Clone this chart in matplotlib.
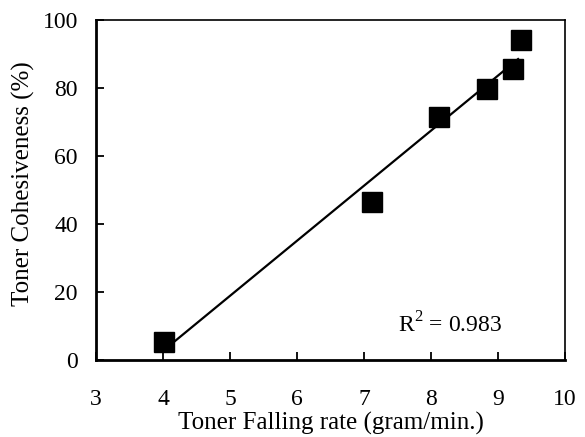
import numpy as np
import matplotlib
matplotlib.use("Agg")
import matplotlib.pyplot as plt

plt.rcParams.update({
    "font.family": ["Liberation Serif", "DejaVu Serif"],
    "mathtext.fontset": "custom",
    "mathtext.rm": "Liberation Serif",
    "font.size": 17,
})

# toner falling rate (gram/min.) vs toner cohesiveness (%)
falling_rate = [4.01, 7.12, 8.12, 8.83, 9.22, 9.34]
cohesiveness = [5.3, 46.5, 71.5, 79.7, 85.6, 94.1]
r2_label = "R$^2$ = 0.983"

x = np.array(falling_rate)
y = np.array(cohesiveness)
slope, intercept = np.polyfit(x, y, 1)

fig = plt.figure(figsize=(5.85, 4.37), dpi=100)
ax = fig.add_axes([96 / 585, 1 - 360 / 437, (565 - 96) / 585, (360 - 20) / 437])

xs = np.array([x.min(), 9.3])
ax.plot(xs, slope * xs + intercept, color="black", lw=1.6, zorder=2)
ax.plot(x, y, "s", color="black", ms=14.5, zorder=3)

ax.text(7.5, 8.2, r2_label, fontsize=17)

ax.set_xlim(3, 10)
ax.set_ylim(0, 100)
ax.set_xticks(range(3, 11))
ax.set_yticks(range(0, 101, 20))
ax.tick_params(axis="x", direction="in", length=5.5, width=1.3, pad=21,
               top=False, labelsize=17)
ax.tick_params(axis="y", direction="in", length=6, width=1.3, pad=13,
               right=False, labelsize=17)

for side in ["left", "bottom"]:
    ax.spines[side].set_linewidth(2.0)
for side in ["top", "right"]:
    ax.spines[side].set_linewidth(1.2)

ax.set_xlabel("Toner Falling rate (gram/min.)", fontsize=18, labelpad=1)
ax.set_ylabel("Toner Cohesiveness (%)", fontsize=18)
ax.yaxis.set_label_coords(-0.13, 0.52)

fig.savefig("out.png", dpi=100)
